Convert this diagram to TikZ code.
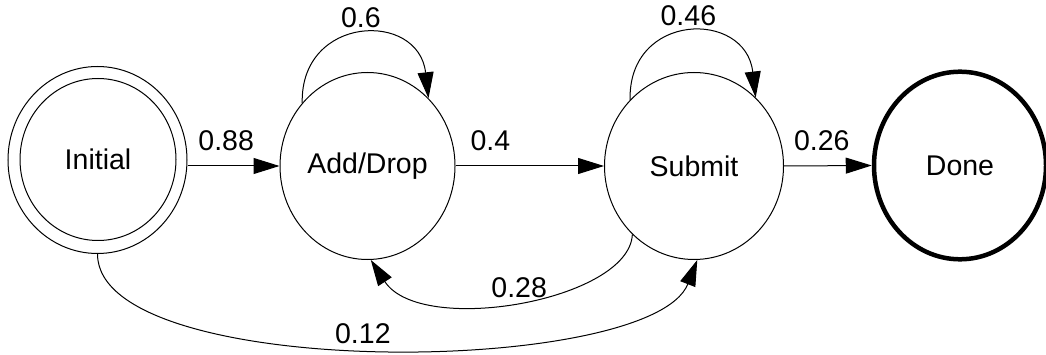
\documentclass[tikz,border=0pt]{standalone}
\usepackage{fontspec}
\setmainfont{Liberation Sans}
\usetikzlibrary{shapes.geometric,arrows.meta,calc}
\begin{document}
\begin{tikzpicture}[x=1pt,y=-1pt,
  font=\fontsize{28.5}{34}\selectfont,
  state/.style={ellipse, draw, line width=1pt, inner sep=0pt},
  arr/.style={line width=1pt, -{Triangle[length=26pt,width=16pt]}},
  lbl/.style={inner sep=0pt}]
\useasboundingbox (0,0) rectangle (1046,355);
\node[state, minimum width=179pt, minimum height=187pt] (init) at (97.5,160) {};
\node[state, minimum width=156pt, minimum height=162pt] (initin) at (98,159.5) {Initial};
\node[state, minimum width=175pt, minimum height=187pt] (add) at (367.5,166) {Add/Drop};
\node[state, minimum width=179pt, minimum height=187pt] (sub) at (694,166) {Submit};
\node[state, line width=4.5pt, minimum width=172pt, minimum height=187.6pt] (done) at (960,165.5) {Done};

\draw[arr] (init.east |- add.west) -- node[lbl, above=15pt, pos=0.42] (l088) {0.88} (add.west);
\draw[arr] (add.east) -- node[lbl, above=15pt, pos=0.235] (l04) {0.4} (sub.west);
\draw[arr] (sub.east) -- node[lbl, above=15pt, pos=0.43] (l026) {0.26} (done.west);

\draw[arr] (add.136) .. controls +(-2,-88) and +(-10,-88) .. node[lbl, above=6pt, pos=0.5] (l06) {0.6} (add.48);
\draw[arr] (sub.134) .. controls +(-2,-88) and +(-10,-88) .. node[lbl, above=6pt, pos=0.5] (l046) {0.46} (sub.48);

\draw[arr] (sub.228) .. controls +(-3,66) and +(50,77) .. node[lbl, above=3pt, pos=0.5] (l028) {0.28} (add.272);
\draw[arr] (init.south) .. controls +(0,128) and +(-46,117) .. node[lbl, above=4pt, pos=0.48] (l012) {0.12} (sub.272);
\end{tikzpicture}
\end{document}
